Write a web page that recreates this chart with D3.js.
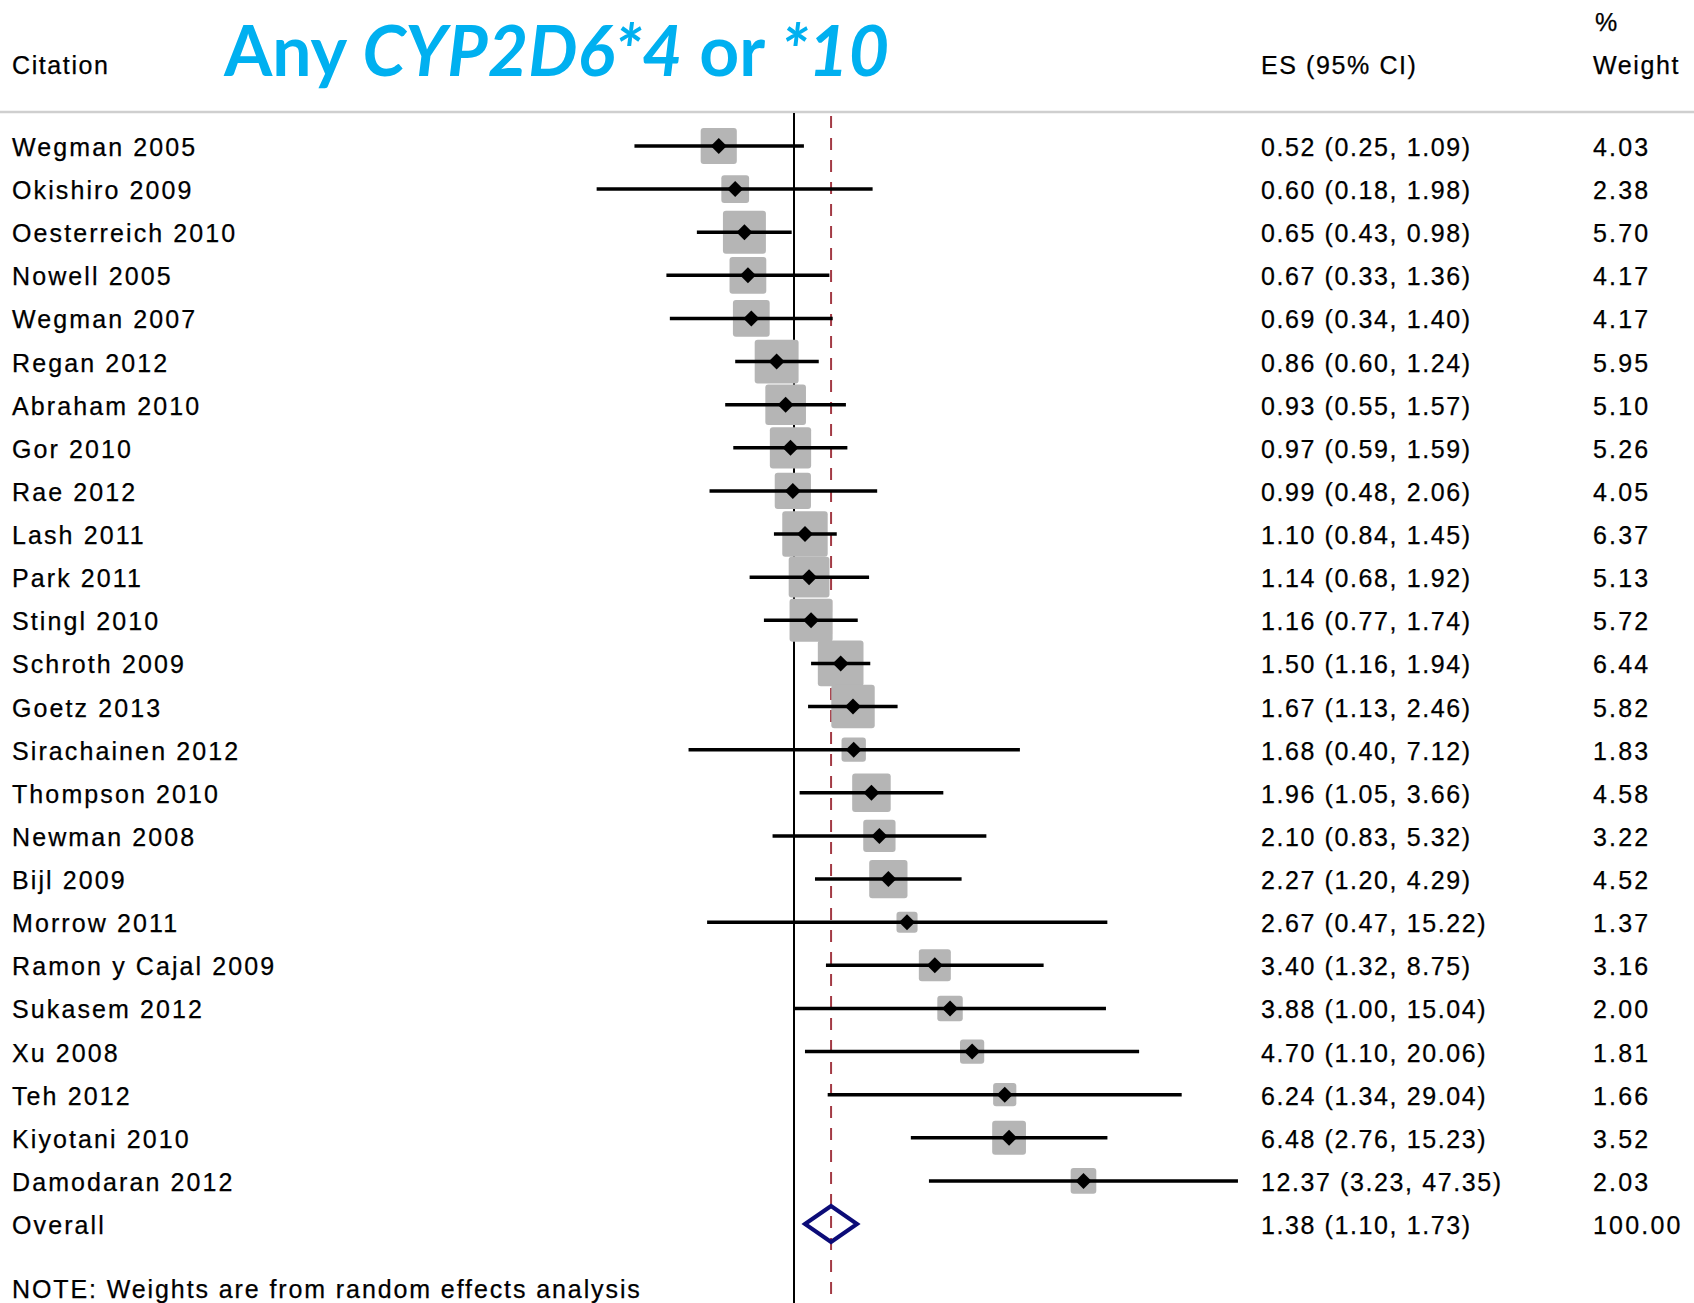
<!DOCTYPE html>
<html>
<head>
<meta charset="utf-8">
<script src="https://cdn.jsdelivr.net/npm/d3@7"></script>
<style>
  html, body { margin: 0; padding: 0; background: #fff; }
  svg { display: block; }
  .lbl { font-family: "Liberation Sans", Arial, sans-serif; font-size: 25px; fill: #000; stroke: #000; stroke-width: 0.25px; }
</style>
</head>
<body>
<div id="chart"></div>
<script>
// study rows, top to bottom
const studies = ["Wegman 2005", "Okishiro 2009", "Oesterreich 2010", "Nowell 2005", "Wegman 2007",
  "Regan 2012", "Abraham 2010", "Gor 2010", "Rae 2012", "Lash 2011", "Park 2011", "Stingl 2010",
  "Schroth 2009", "Goetz 2013", "Sirachainen 2012", "Thompson 2010", "Newman 2008", "Bijl 2009",
  "Morrow 2011", "Ramon y Cajal 2009", "Sukasem 2012", "Xu 2008", "Teh 2012", "Kiyotani 2010",
  "Damodaran 2012"];
const es = [0.52, 0.60, 0.65, 0.67, 0.69, 0.86, 0.93, 0.97, 0.99, 1.10, 1.14, 1.16,
  1.50, 1.67, 1.68, 1.96, 2.10, 2.27, 2.67, 3.40, 3.88, 4.70, 6.24, 6.48, 12.37];
const lo = [0.25, 0.18, 0.43, 0.33, 0.34, 0.60, 0.55, 0.59, 0.48, 0.84, 0.68, 0.77,
  1.16, 1.13, 0.40, 1.05, 0.83, 1.20, 0.47, 1.32, 1.00, 1.10, 1.34, 2.76, 3.23];
const hi = [1.09, 1.98, 0.98, 1.36, 1.40, 1.24, 1.57, 1.59, 2.06, 1.45, 1.92, 1.74,
  1.94, 2.46, 7.12, 3.66, 5.32, 4.29, 15.22, 8.75, 15.04, 20.06, 29.04, 15.23, 47.35];
const weights = [4.03, 2.38, 5.70, 4.17, 4.17, 5.95, 5.10, 5.26, 4.05, 6.37, 5.13, 5.72,
  6.44, 5.82, 1.83, 4.58, 3.22, 4.52, 1.37, 3.16, 2.00, 1.81, 1.66, 3.52, 2.03];

const overall = { label: "Overall", es: 1.38, lo: 1.10, hi: 1.73, weight: 100.00 };

const W = 1694, H = 1303;

const svg = d3.select("#chart").append("svg")
  .attr("width", W).attr("height", H);

const rows = studies.map((s, i) => ({ label: s, es: es[i], lo: lo[i], hi: hi[i], weight: weights[i] }));
const allRows = rows.concat([overall]);

// log scale for effect sizes, 1 sits at x=794
const x = d3.scaleLog().domain([0.1, 100]).range([529, 1324]);
const y = d3.scalePoint().domain(allRows.map(d => d.label)).range([146, 1224]);

const fmt = d3.format(".2f");

// title
const title = svg.append("text")
  .attr("x", 224).attr("y", 76)
  .attr("textLength", 665).attr("lengthAdjust", "spacingAndGlyphs")
  .style("font-family", "Lato, 'Open Sans', sans-serif")
  .style("font-weight", "bold")
  .style("font-size", "70px")
  .style("fill", "#00b0f0");
title.append("tspan").text("Any ");
title.append("tspan").style("font-style", "italic").text("CYP2D6*4");
title.append("tspan").text(" or ");
title.append("tspan").style("font-style", "italic").text("*10");

// headers
svg.append("text").attr("class", "lbl").attr("x", 12).attr("y", 74)
  .style("letter-spacing", "1.6px").text("Citation");
svg.append("text").attr("class", "lbl").attr("x", 1261).attr("y", 74)
  .style("letter-spacing", "1.6px").text("ES (95% CI)");
svg.append("text").attr("class", "lbl").attr("x", 1595).attr("y", 31).text("%");
svg.append("text").attr("class", "lbl").attr("x", 1593).attr("y", 74)
  .style("letter-spacing", "1.6px").text("Weight");

// separator line
svg.append("line")
  .attr("x1", 0).attr("x2", W).attr("y1", 112).attr("y2", 112)
  .attr("stroke", "#cfcfcf").attr("stroke-width", 2.5);

// null line and overall line
svg.append("line")
  .attr("x1", x(1)).attr("x2", x(1)).attr("y1", 113).attr("y2", H)
  .attr("stroke", "#000").attr("stroke-width", 2);
svg.append("line")
  .attr("x1", x(overall.es)).attr("x2", x(overall.es)).attr("y1", 116).attr("y2", H)
  .attr("stroke", "#a33a45").attr("stroke-width", 2)
  .attr("stroke-dasharray", "12,10");

// weight boxes
svg.append("g").selectAll("rect")
  .data(rows)
  .join("rect")
  .attr("x", d => x(d.es) - 9 * Math.sqrt(d.weight))
  .attr("y", d => y(d.label) - 9 * Math.sqrt(d.weight))
  .attr("width", d => 18 * Math.sqrt(d.weight))
  .attr("height", d => 18 * Math.sqrt(d.weight))
  .attr("rx", 3)
  .attr("fill", "#b5b5b5");

// CI lines
svg.append("g").selectAll("line")
  .data(rows)
  .join("line")
  .attr("x1", d => x(d.lo)).attr("x2", d => x(d.hi))
  .attr("y1", d => y(d.label)).attr("y2", d => y(d.label))
  .attr("stroke", "#000").attr("stroke-width", 3.5);

// point estimates
svg.append("g").selectAll("path")
  .data(rows)
  .join("path")
  .attr("d", d => {
    const cx = x(d.es), cy = y(d.label), r = 8;
    return `M${cx - r},${cy}L${cx},${cy - r}L${cx + r},${cy}L${cx},${cy + r}Z`;
  })
  .attr("fill", "#000");

// overall diamond (hollow, dashed line shows through)
svg.append("path")
  .datum(overall)
  .attr("d", d => {
    const cy = y(d.label), h = 18;
    return `M${x(d.lo)},${cy}L${x(d.es)},${cy - h}L${x(d.hi)},${cy}L${x(d.es)},${cy + h}Z`;
  })
  .attr("fill", "none")
  .attr("stroke", "#0c0c78")
  .attr("stroke-width", 4);

// text columns
const txt = svg.append("g");
txt.selectAll(".name")
  .data(allRows)
  .join("text")
  .attr("class", "lbl name")
  .attr("x", 12)
  .attr("y", d => y(d.label) + 10)
  .style("letter-spacing", "2.1px")
  .text(d => d.label);

txt.selectAll(".es")
  .data(allRows)
  .join("text")
  .attr("class", "lbl es")
  .attr("x", 1261)
  .attr("y", d => y(d.label) + 10)
  .style("letter-spacing", "1.6px")
  .text(d => `${fmt(d.es)} (${fmt(d.lo)}, ${fmt(d.hi)})`);

txt.selectAll(".wt")
  .data(allRows)
  .join("text")
  .attr("class", "lbl wt")
  .attr("x", 1593)
  .attr("y", d => y(d.label) + 10)
  .style("letter-spacing", "2.2px")
  .text(d => fmt(d.weight));

// footnote
svg.append("text").attr("class", "lbl").attr("x", 12).attr("y", 1298)
  .style("letter-spacing", "1.9px")
  .text("NOTE: Weights are from random effects analysis");
</script>
</body>
</html>
